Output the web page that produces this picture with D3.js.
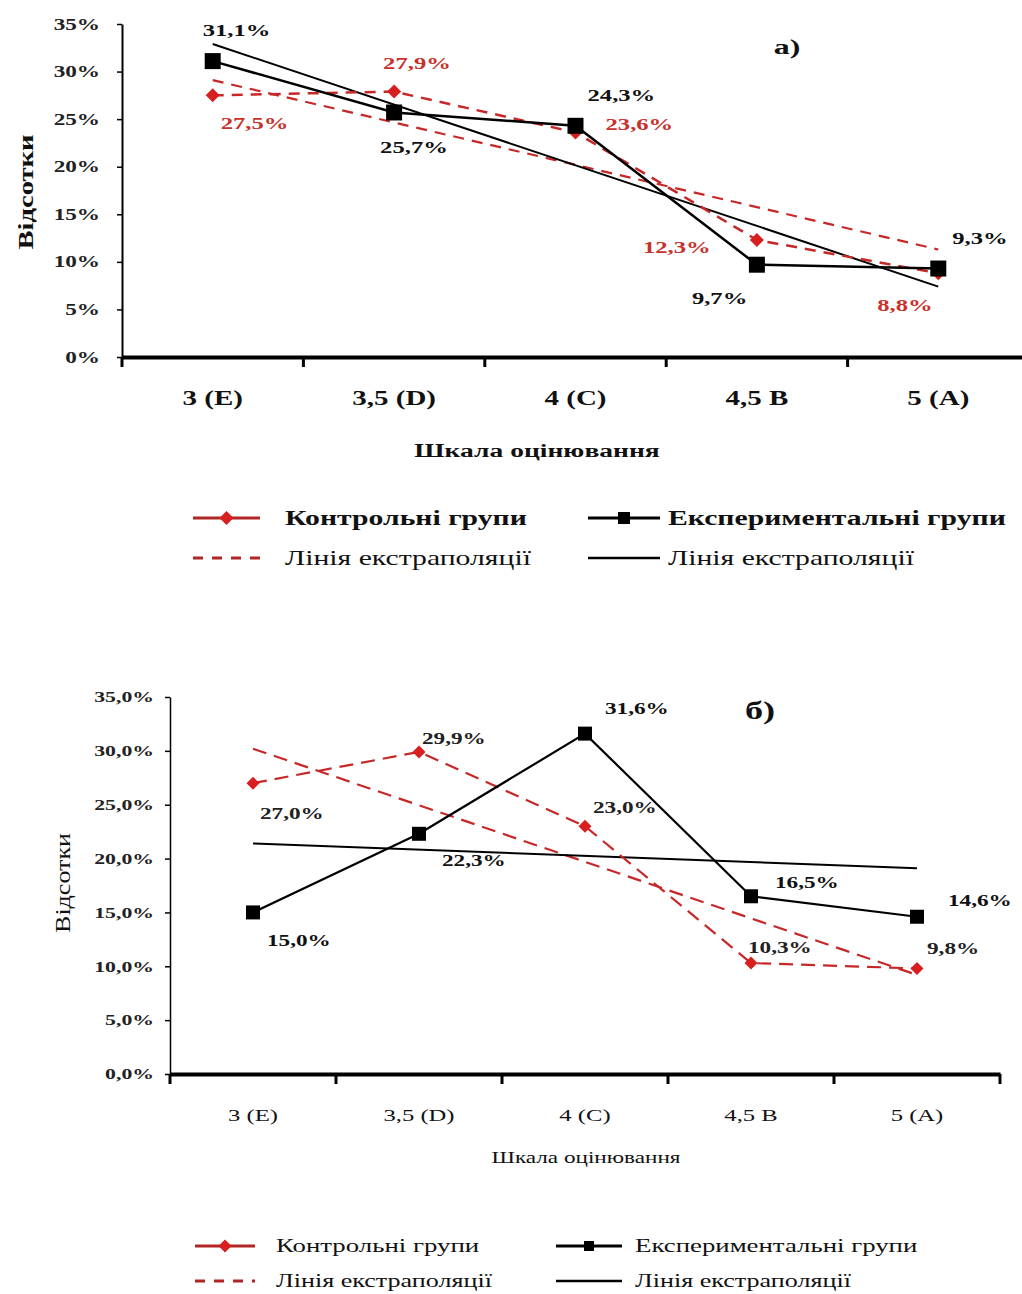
<!DOCTYPE html>
<meta charset="utf-8">
<style>
body { margin: 0; background: #fff; }
svg text { font-family: "Liberation Serif", "Times New Roman", serif; }
</style>
<body>
<script src="https://cdn.jsdelivr.net/npm/d3@7"></script>
<script>

// grading scale categories
var categories = ["3 (E)", "3,5 (D)", "4 (C)", "4,5 B", "5 (A)"];
var yTicks = [0, 5, 10, 15, 20, 25, 30, 35];

// chart а)
var controlA = [27.5, 27.9, 23.6, 12.3, 8.8];
var experimentalA = [31.1, 25.7, 24.3, 9.7, 9.3];
var controlTrendA = [29.1, 11.3];        // trend value at 3 (E) and at 5 (A)
var experimentalTrendA = [32.9, 7.4];

// chart б)
var controlB = [27.0, 29.9, 23.0, 10.3, 9.8];
var experimentalB = [15.0, 22.3, 31.6, 16.5, 14.6];
var controlTrendB = [30.2, 9.2];
var experimentalTrendB = [21.4, 19.1];

var legendNames = ["Контрольні групи", "Експериментальні групи", "Лінія екстраполяції", "Лінія екстраполяції"];

var SX = 1.45;   // lettering in the scan is widened horizontally
var red = "#c62828";

var svg = d3.select("body").append("svg")
    .attr("width", 1022)
    .attr("height", 1294);

function pct(v) { return d3.format(".1f")(v).replace(".", ",") + "%"; }

// text helper: widened text placed at x,y
function label(parent, x, y, txt, size, bold, color, anchor) {
  parent.append("g")
      .attr("transform", "translate(" + x + "," + y + ") scale(" + SX + ",1)")
    .append("text")
      .attr("text-anchor", anchor || "start")
      .attr("dy", "0.35em")
      .attr("font-size", size)
      .attr("font-weight", bold ? "bold" : "normal")
      .attr("fill", color || "#111")
      .text(txt);
}

function marker(parent, kind, x, y, size, color) {
  if (kind == "diamond") {
    parent.append("path")
        .attr("d", d3.symbol(d3.symbolSquare, size * size / 2)())
        .attr("transform", "translate(" + x + "," + y + ") rotate(45)")
        .attr("fill", color);
  } else {
    parent.append("path")
        .attr("d", d3.symbol(d3.symbolSquare, size * size)())
        .attr("transform", "translate(" + x + "," + y + ")")
        .attr("fill", color);
  }
}

var charts = [
  {
    control: controlA, experimental: experimentalA,
    controlTrend: controlTrendA, experimentalTrend: experimentalTrendA,
    xRange: [122, 1029], yRange: [357, 24],
    tickFormat: function(d) { return d + "%"; },
    tickFont: 16, tickGap: 22, axisWidth: 2,
    catFont: 20, catBold: true, catY: 41,
    title: {x: 537, y: 450, size: 19, bold: true},
    yTitle: {x: 25, y: 192, size: 22, bold: true},
    panel: {text: "а)", x: 787, y: 46, size: 22},
    pointFont: 17, controlColor: "#c8312c",
    controlOffsets: [[8, 28], [-11, -29], [30, -8], [-114, 7], [-61, 32]],
    expOffsets: [[-10, -31], [-14, 35], [12, -31], [-65, 33], [14, -30]],
    square: 16, diamond: 14, lineWidth: 2.5, dash: "11,8",
    legend: {rows: [518, 558], redLine: [193, 260], redText: 285,
             blackLine: [588, 660], blackText: 668,
             size: [20.5, 20.5], bold: [true, false], square: 12, diamond: 14}
  },
  {
    control: controlB, experimental: experimentalB,
    controlTrend: controlTrendB, experimentalTrend: experimentalTrendB,
    xRange: [170, 1000], yRange: [1074, 697],
    tickFormat: function(d) { return d3.format(".1f")(d).replace(".", ",") + "%"; },
    tickFont: 15, tickGap: 16, axisWidth: 1.5,
    catFont: 17, catBold: false, catY: 41,
    title: {x: 586, y: 1157, size: 16, bold: false},
    yTitle: {x: 63, y: 883, size: 20, bold: false},
    panel: {text: "б)", x: 760, y: 710, size: 25},
    pointFont: 16, controlColor: "#222",
    controlOffsets: [[7, 30], [3, -14], [8, -19], [-3, -16], [10, -20]],
    expOffsets: [[14, 28], [23, 27], [20, -25], [24, -14], [31, -16]],
    square: 14, diamond: 13, lineWidth: 2.2, dash: "14,8",
    legend: {rows: [1246, 1281], redLine: [195, 255], redText: 276,
             blackLine: [556, 622], blackText: 635,
             size: [18.5, 18], bold: [false, false], square: 10, diamond: 13}
  }
];

charts.forEach(function(c) {
  var g = svg.append("g");

  var x = d3.scaleBand().domain(categories).range(c.xRange).padding(0);
  var y = d3.scaleLinear().domain([0, 35]).range(c.yRange);
  var cx = function(i) { return x(categories[i]) + x.bandwidth() / 2; };

  // y axis
  var ya = g.append("g")
      .attr("transform", "translate(" + c.xRange[0] + ",0)")
      .call(d3.axisLeft(y).tickValues(yTicks).tickSize(5).tickSizeOuter(0)
            .tickFormat(c.tickFormat));
  ya.select(".domain").attr("stroke-width", c.axisWidth);
  ya.selectAll(".tick line").attr("stroke-width", 1.5);
  ya.selectAll(".tick text")
      .attr("x", -c.tickGap / SX)
      .attr("transform", "scale(" + SX + ",1)")
      .attr("font-size", c.tickFont)
      .attr("font-weight", "bold")
      .attr("font-family", "Liberation Serif, serif")
      .attr("fill", "#222");

  // x axis
  var xa = g.append("g")
      .attr("transform", "translate(0," + c.yRange[0] + ")")
      .call(d3.axisBottom(x).tickSize(0).tickSizeOuter(0));
  xa.select(".domain").attr("stroke-width", 4);
  xa.selectAll(".tick text")
      .attr("y", c.catY)
      .attr("dy", "0.35em")
      .attr("transform", "scale(" + SX + ",1)")
      .attr("font-size", c.catFont)
      .attr("font-weight", c.catBold ? "bold" : "normal")
      .attr("font-family", "Liberation Serif, serif")
      .attr("fill", "#111");

  // tick marks sit on the band edges
  var edges = categories.map(function(d) { return x(d); }).concat([x.range()[1]]);
  g.selectAll(".edge")
      .data(edges)
    .enter().append("line")
      .attr("x1", function(d) { return d; })
      .attr("x2", function(d) { return d; })
      .attr("y1", c.yRange[0])
      .attr("y2", c.yRange[0] + 10)
      .attr("stroke", "#000")
      .attr("stroke-width", 3);

  // trend lines
  g.append("line")
      .attr("x1", cx(0)).attr("x2", cx(4))
      .attr("y1", y(c.controlTrend[0])).attr("y2", y(c.controlTrend[1]))
      .attr("stroke", red).attr("stroke-width", 2.2)
      .attr("stroke-dasharray", c.dash);
  g.append("line")
      .attr("x1", cx(0)).attr("x2", cx(4))
      .attr("y1", y(c.experimentalTrend[0])).attr("y2", y(c.experimentalTrend[1]))
      .attr("stroke", "#000").attr("stroke-width", 2);

  var line = d3.line()
      .x(function(d, i) { return cx(i); })
      .y(function(d) { return y(d); });

  g.append("path")
      .attr("d", line(c.control))
      .attr("fill", "none")
      .attr("stroke", red)
      .attr("stroke-width", c.lineWidth)
      .attr("stroke-dasharray", c.dash);
  g.append("path")
      .attr("d", line(c.experimental))
      .attr("fill", "none")
      .attr("stroke", "#000")
      .attr("stroke-width", c.lineWidth);

  c.control.forEach(function(v, i) { marker(g, "diamond", cx(i), y(v), c.diamond, "#d81e1e"); });
  c.experimental.forEach(function(v, i) { marker(g, "square", cx(i), y(v), c.square, "#000"); });

  // value labels
  c.control.forEach(function(v, i) {
    label(g, cx(i) + c.controlOffsets[i][0], y(v) + c.controlOffsets[i][1], pct(v),
          c.pointFont, true, c.controlColor);
  });
  c.experimental.forEach(function(v, i) {
    label(g, cx(i) + c.expOffsets[i][0], y(v) + c.expOffsets[i][1], pct(v),
          c.pointFont, true, "#111");
  });

  // panel letter and axis titles
  label(g, c.panel.x, c.panel.y, c.panel.text, c.panel.size, true, "#111", "middle");
  label(g, c.title.x, c.title.y, "Шкала оцінювання", c.title.size, c.title.bold, "#111", "middle");

  g.append("g")
      .attr("transform", "translate(" + c.yTitle.x + "," + c.yTitle.y + ") rotate(-90) scale(1.3,1)")
    .append("text")
      .attr("text-anchor", "middle")
      .attr("dy", "0.35em")
      .attr("font-size", c.yTitle.size)
      .attr("font-weight", c.yTitle.bold ? "bold" : "normal")
      .attr("fill", "#111")
      .text("Відсотки");

  // legend
  var L = c.legend;
  g.append("line")
      .attr("x1", L.redLine[0]).attr("x2", L.redLine[1])
      .attr("y1", L.rows[0]).attr("y2", L.rows[0])
      .attr("stroke", "#b02525").attr("stroke-width", 3);
  marker(g, "diamond", (L.redLine[0] + L.redLine[1]) / 2, L.rows[0], L.diamond, "#d81e1e");
  g.append("line")
      .attr("x1", L.blackLine[0]).attr("x2", L.blackLine[1])
      .attr("y1", L.rows[0]).attr("y2", L.rows[0])
      .attr("stroke", "#000").attr("stroke-width", 3);
  marker(g, "square", (L.blackLine[0] + L.blackLine[1]) / 2, L.rows[0], L.square, "#000");
  g.append("line")
      .attr("x1", L.redLine[0]).attr("x2", L.redLine[1])
      .attr("y1", L.rows[1]).attr("y2", L.rows[1])
      .attr("stroke", "#b02525").attr("stroke-width", 3)
      .attr("stroke-dasharray", "10,9");
  g.append("line")
      .attr("x1", L.blackLine[0]).attr("x2", L.blackLine[1])
      .attr("y1", L.rows[1]).attr("y2", L.rows[1])
      .attr("stroke", "#000").attr("stroke-width", 2.5);

  label(g, L.redText, L.rows[0], legendNames[0], L.size[0], L.bold[0], "#111");
  label(g, L.blackText, L.rows[0], legendNames[1], L.size[0], L.bold[0], "#111");
  label(g, L.redText, L.rows[1], legendNames[2], L.size[1], L.bold[1], "#111");
  label(g, L.blackText, L.rows[1], legendNames[3], L.size[1], L.bold[1], "#111");
});

</script>
</body>
